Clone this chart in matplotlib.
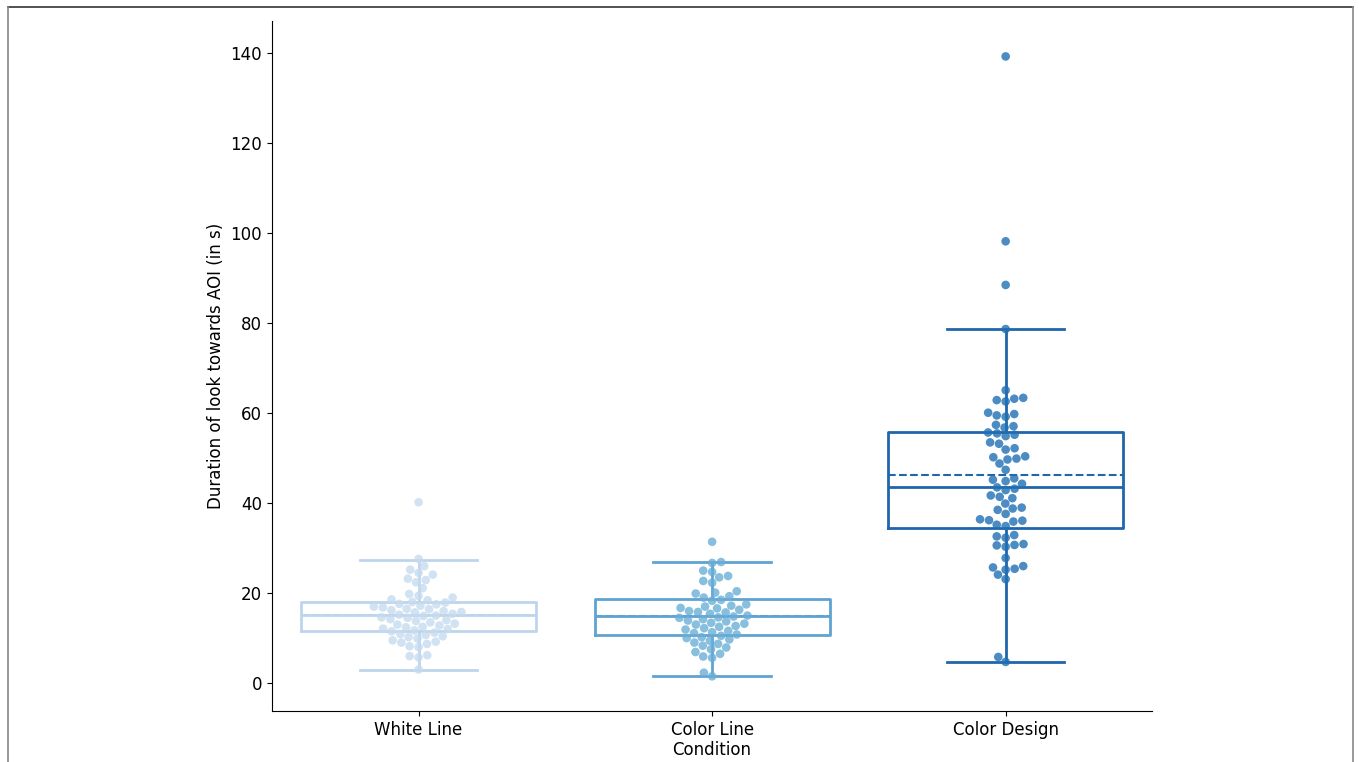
import numpy as np
import pandas as pd
import matplotlib
matplotlib.use("Agg")
import matplotlib.pyplot as plt
from matplotlib.lines import Line2D
import seaborn as sns

conditions = ["White Line", "Color Line", "Color Design"]

white_line = [40.1, 27.5, 25.9, 25.1, 24.4, 24.0, 23.1, 22.8, 22.3, 21.0,
              19.7, 19.3, 18.9, 18.5, 18.3, 17.9, 17.8, 17.5, 17.4, 17.1,
              16.9, 16.7, 16.4, 16.3, 16.1, 15.9, 15.7, 15.6, 15.3, 15.1,
              14.9, 14.8, 14.5, 14.4, 14.1, 13.9, 13.7, 13.4, 13.1, 12.9,
              12.7, 12.4, 12.3, 12.0, 11.9, 11.6, 11.4, 11.1, 10.8, 10.6,
              10.3, 10.1, 9.8, 9.4, 9.1, 8.9, 8.6, 8.1, 7.9, 6.1, 5.9, 5.6, 2.9]

color_line = [31.3, 26.8, 26.6, 24.9, 24.6, 23.7, 23.4, 22.6, 22.2, 20.3,
              20.0, 19.8, 19.2, 18.9, 18.4, 18.2, 17.4, 17.1, 16.9, 16.6,
              16.5, 16.2, 15.9, 15.7, 15.6, 15.3, 14.9, 14.7, 14.5, 14.4,
              14.1, 13.8, 13.6, 13.3, 13.1, 12.9, 12.6, 12.4, 12.1, 11.8,
              11.5, 11.2, 11.0, 10.7, 10.4, 10.1, 9.9, 9.6, 9.3, 8.9,
              8.6, 8.2, 7.8, 7.4, 6.8, 6.4, 5.8, 5.5, 2.2, 1.4]

color_design = [139.2, 98.1, 88.4, 78.6, 65.0,
                63.1, 62.8, 62.5, 63.3, 59.4, 59.7, 59.1, 60.0,
                57.0, 56.7, 57.3, 55.1, 55.4, 54.8, 55.6, 53.1, 53.4,
                51.8, 52.1, 49.8, 50.1, 49.6, 50.3, 48.7, 47.3,
                45.1, 44.8, 45.4, 44.2, 43.1, 43.4, 42.8, 41.3, 41.0, 41.6,
                39.8, 38.7, 38.9, 38.4, 37.5, 36.0, 36.3, 35.8, 36.1, 35.1, 34.8,
                32.5, 32.8, 32.2, 30.5, 30.8, 30.2, 30.6, 27.7,
                25.6, 25.3, 25.9, 25.1, 24.0, 23.0, 5.7, 4.6]

# box statistics
q1 = [11.4, 10.5, 34.4]
med = [15.1, 14.7, 43.5]
q3 = [17.9, 18.6, 55.7]
whislo = [2.9, 1.4, 4.6]
whishi = [27.3, 26.7, 78.6]
means = [15.1, 14.8, 46.2]

colors = sns.color_palette("Blues", 3)
box_colors = ["#bdd5ec", "#5fa3d2", "#1f66ab"]

df = pd.DataFrame({
    "Condition": [conditions[0]] * len(white_line) + [conditions[1]] * len(color_line)
                 + [conditions[2]] * len(color_design),
    "Duration": white_line + color_line + color_design,
})

fig, ax = plt.subplots(figsize=(13.59, 7.62), dpi=100)
fig.subplots_adjust(left=0.200, right=0.848, bottom=0.067, top=0.972)

for i in range(3):
    st = [dict(q1=q1[i], med=med[i], q3=q3[i], whislo=whislo[i], whishi=whishi[i],
               mean=means[i], fliers=[])]
    c = box_colors[i]
    ax.bxp(st, positions=[i], widths=0.8, capwidths=0.4, showfliers=False,
           showmeans=True, meanline=True,
           boxprops=dict(color=c, linewidth=2),
           whiskerprops=dict(color=c, linewidth=2),
           capprops=dict(color=c, linewidth=2),
           medianprops=dict(color=c, linewidth=2),
           meanprops=dict(color=c, linewidth=1.5, linestyle="--"))

sns.swarmplot(data=df, x="Condition", y="Duration", hue="Condition",
              palette=colors, size=6.2, alpha=0.8, ax=ax, legend=False, zorder=3)

ax.set_xlim(-0.5, 2.5)
ax.set_ylim(-6.3, 147)
ax.set_xticks(range(3))
ax.set_xticklabels(conditions, fontsize=12)
ax.set_yticks(range(0, 141, 20))
ax.tick_params(axis="y", labelsize=12)
ax.set_xlabel("Condition", fontsize=12, labelpad=2)
ax.set_ylabel("Duration of look towards AOI (in s)", fontsize=12)
ax.spines["top"].set_visible(False)
ax.spines["right"].set_visible(False)

# thin frame around the picture
fig.add_artist(Line2D([8 / 1359, 1353 / 1359], [1 - 7 / 762, 1 - 7 / 762],
                      color="#333333", linewidth=1.2))
fig.add_artist(Line2D([8 / 1359, 8 / 1359], [0, 1 - 7 / 762], color="#888888", linewidth=1.2))
fig.add_artist(Line2D([1353 / 1359, 1353 / 1359], [0, 1 - 7 / 762], color="#888888", linewidth=1.2))

plt.savefig("out.png", dpi=100)
